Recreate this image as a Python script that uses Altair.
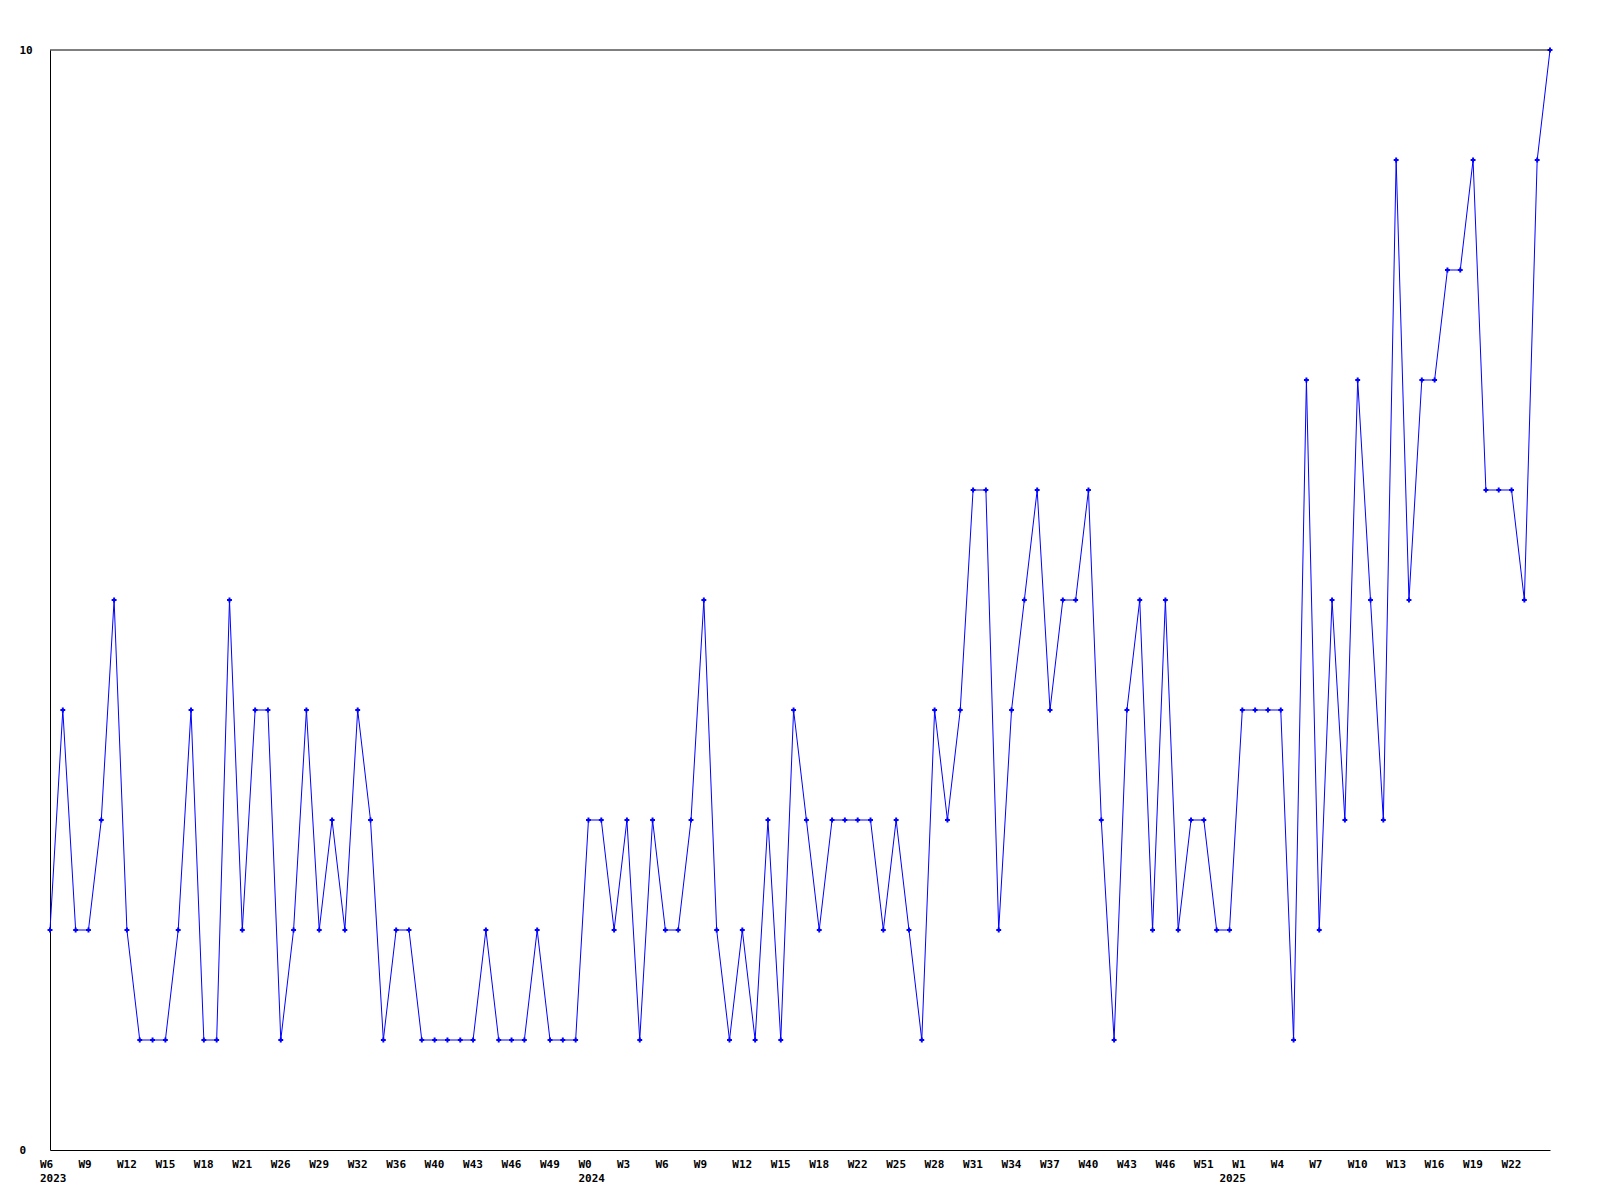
import altair as alt
import pandas as pd

# Weekly values, one per point (2023 W6 ... 2025 ~W25)
values = [
    2, 4, 2, 2, 3, 5, 2, 1, 1, 1,
    2, 4, 1, 1, 5, 2, 4, 4, 1, 2,
    4, 2, 3, 2, 4, 3, 1, 2, 2, 1,
    1, 1, 1, 1, 2, 1, 1, 1, 2, 1,
    1, 1, 3, 3, 2, 3, 1, 3, 2, 2,
    3, 5, 2, 1, 2, 1, 3, 1, 4, 3,
    2, 3, 3, 3, 3, 2, 3, 2, 1, 4,
    3, 4, 6, 6, 2, 4, 5, 6, 4, 5,
    5, 6, 3, 1, 4, 5, 2, 5, 2, 3,
    3, 2, 2, 4, 4, 4, 4, 1, 7, 2,
    5, 3, 7, 5, 3, 9, 5, 7, 7, 8,
    8, 9, 6, 6, 6, 5, 9, 10,
]

# Week tick labels, one for every third point
week_labels = [
    "W6", "W9", "W12", "W15", "W18", "W21", "W26", "W29", "W32", "W36",
    "W40", "W43", "W46", "W49",
    "W0", "W3", "W6", "W9", "W12", "W15", "W18", "W22", "W25", "W28",
    "W31", "W34", "W37", "W40", "W43", "W46", "W51",
    "W1", "W4", "W7", "W10", "W13", "W16", "W19", "W22",
]
label_step = 3

# Year labels and the point index where each year begins
years = ["2023", "2024", "2025"]
year_start = [0, 42, 92]

df = pd.DataFrame({"i": list(range(len(values))), "v": values})

# Build tick values and multi-line label expression
tick_map = {}
for k, w in enumerate(week_labels):
    tick_map[k * label_step] = [w, ""]
for y, s in zip(years, year_start):
    tick_map.setdefault(s, ["", ""])
    tick_map[s][1] = y
tick_vals = sorted(tick_map)


def lab(parts):
    a, b = parts
    if b:
        return "['%s','%s']" % (a, b)
    return "'%s'" % a


expr = "''"
for v in reversed(tick_vals):
    expr = "datum.value == %d ? %s : (%s)" % (v, lab(tick_map[v]), expr)

FONT = "DejaVu Sans Mono"
BLUE = "#0000ff"

xscale = alt.Scale(domain=[0, len(values) - 1], nice=False, zero=False)
yscale = alt.Scale(domain=[0, 10], nice=False)

x_axis = alt.Axis(
    title=None,
    values=tick_vals,
    labelExpr=expr,
    ticks=False,
    tickSize=0,
    grid=False,
    labelPadding=8,
    labelAlign="left",
    labelOffset=-10.5,
    labelFlush=False,
    labelOverlap=False,
    labelBound=False,
    labelLineHeight=14,
    labelFont=FONT,
    labelFontSize=11,
    labelFontWeight="bold",
    labelColor="black",
    domainColor="black",
    domainWidth=1,
)
y_axis = alt.Axis(
    title=None,
    values=[0, 10],
    format="d",
    ticks=False,
    tickSize=0,
    grid=False,
    labelPadding=31,
    labelAlign="left",
    labelBaseline="middle",
    labelFlush=False,
    labelOverlap=False,
    labelFont=FONT,
    labelFontSize=11,
    labelFontWeight="bold",
    labelColor="black",
    domainColor="black",
    domainWidth=1,
)

x_enc = alt.X("i:Q", scale=xscale, axis=x_axis)
y_enc = alt.Y("v:Q", scale=yscale, axis=y_axis)

line = alt.Chart(df).mark_line(color=BLUE, strokeWidth=1).encode(x=x_enc, y=y_enc)
pts = alt.Chart(df).mark_point(
    shape="cross", filled=True, size=24, color=BLUE, opacity=1
).encode(x=x_enc, y=y_enc)

top = alt.Chart(pd.DataFrame({"v": [10]})).mark_rule(
    color="black", strokeWidth=1
).encode(y=y_enc)

chart = (
    alt.layer(line, pts, top)
    .properties(
        width=1500,
        height=1100,
        autosize=alt.AutoSizeParams(type="none"),
        padding={"left": 42, "top": 42, "right": 40, "bottom": 40},
        background="white",
    )
    .configure_view(stroke=None)
    .configure_axis(labelOverlap=False)
)

chart.save("out.html", embed_options={"renderer": "svg", "actions": False})
